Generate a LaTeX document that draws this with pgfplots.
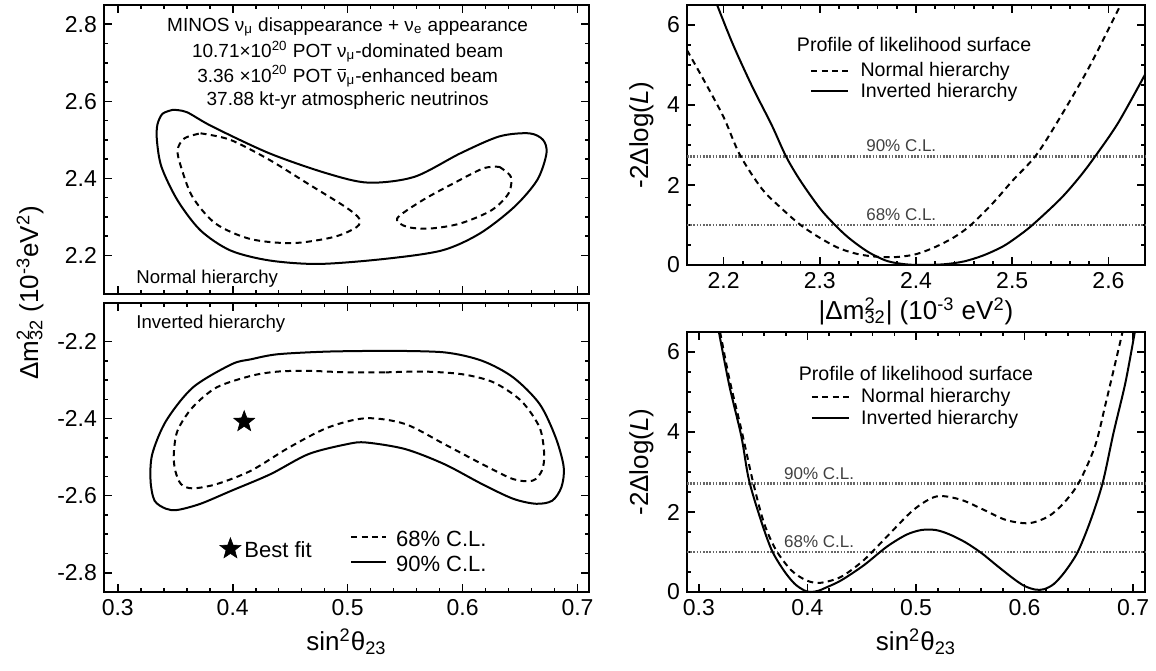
\documentclass[border=0pt]{standalone}
\usepackage{fontspec}
\setmainfont{Liberation Sans}
\usepackage{pgfplots}
\pgfplotsset{compat=1.18}
\newcommand{\fsz}[2]{\fontsize{#1}{#2}\selectfont}
\newcommand{\supsub}[2]{\rlap{\textsuperscript{#1}}\textsubscript{#2}}
\newcommand{\nubar}{\makebox[0pt][l]{\hspace{0.05em}\rule[0.62em]{0.42em}{0.06em}}ν}
\pgfdeclareplotmark{fivestar}{%
  \pgfpathmoveto{\pgfpointpolar{90}{\pgfplotmarksize}}%
  \pgfpathlineto{\pgfpointpolar{126}{0.42\pgfplotmarksize}}%
  \pgfpathlineto{\pgfpointpolar{162}{\pgfplotmarksize}}%
  \pgfpathlineto{\pgfpointpolar{198}{0.42\pgfplotmarksize}}%
  \pgfpathlineto{\pgfpointpolar{234}{\pgfplotmarksize}}%
  \pgfpathlineto{\pgfpointpolar{270}{0.42\pgfplotmarksize}}%
  \pgfpathlineto{\pgfpointpolar{306}{\pgfplotmarksize}}%
  \pgfpathlineto{\pgfpointpolar{342}{0.42\pgfplotmarksize}}%
  \pgfpathlineto{\pgfpointpolar{18}{\pgfplotmarksize}}%
  \pgfpathlineto{\pgfpointpolar{54}{0.42\pgfplotmarksize}}%
  \pgfpathclose
  \pgfusepathqfillstroke
}
\pgfplotsset{
  base/.style={
    scale only axis, anchor=south west, clip=false,
    axis line style={line width=0.9pt},
    every tick/.append style={black, line width=0.8pt},
    tickwidth=4pt, subtickwidth=2.2pt,
    tick align=inside,
    xtick pos=both, ytick pos=both,
    xticklabel pos=bottom, yticklabel pos=left,
    ticklabel style={font=\fsz{11.5}{13}},
    label style={font=\fsz{13}{15}},
    /pgf/number format/assume math mode=true,
    every axis plot/.append style={line width=1pt},
  },
  contour/.style={base, width=242.5pt, height=144.5pt,
    xmin=0.288, xmax=0.71, xtick={0.3,0.4,0.5,0.6,0.7}, minor x tick num=4,
    minor y tick num=3},
  prof/.style={base, width=229pt, height=130pt,
    ymin=0, ymax=6.5, ytick={0,2,4,6}, minor y tick num=3, minor x tick num=4,
    ylabel={-2Δlog(\textit{L})}},
  dsh/.style={black, dash pattern=on 3pt off 2.2pt},
  cl/.style={line width=1.4pt, black!60, dash pattern=on 0.8pt off 0.8pt},
}
\begin{document}
\begin{tikzpicture}
\path (0,0) rectangle (578pt,335pt);

% ---------- top left: normal hierarchy contours
\begin{axis}[contour, at={(52pt,188pt)}, ymin=2.10, ymax=2.85,
  ytick={2.2,2.4,2.6,2.8}, xticklabels={},
  yticklabel style={/pgf/number format/.cd, fixed, fixed zerofill, precision=1}]
\addplot[black, smooth] coordinates {
(0.348,2.578) (0.360,2.572) (0.382,2.535) (0.432,2.465) (0.482,2.413) (0.518,2.389)
(0.558,2.404) (0.598,2.465) (0.632,2.509) (0.658,2.517) (0.670,2.500) (0.673,2.465)
(0.665,2.396) (0.645,2.326) (0.615,2.257) (0.582,2.213) (0.532,2.191) (0.475,2.178)
(0.432,2.187) (0.398,2.213) (0.372,2.265) (0.352,2.343) (0.338,2.430) (0.334,2.500)
(0.3345,2.540) (0.339,2.568) (0.348,2.578)};
\addplot[smooth, dsh] coordinates {
(0.372,2.517) (0.398,2.500) (0.432,2.448) (0.465,2.387) (0.498,2.326) (0.510,2.296)
(0.508,2.274) (0.488,2.248) (0.452,2.232) (0.415,2.243) (0.385,2.283) (0.365,2.352)
(0.355,2.430) (0.352,2.474) (0.358,2.504) (0.372,2.517)};
\addplot[smooth, dsh] coordinates {
(0.632,2.430) (0.642,2.404) (0.640,2.361) (0.625,2.317) (0.598,2.283) (0.572,2.270)
(0.552,2.274) (0.543,2.296) (0.565,2.343) (0.592,2.387) (0.618,2.426) (0.632,2.430)};
\node[anchor=base, font=\fsz{9.5}{11}] at (axis cs:0.5,2.780) {MINOS ν\textsubscript{μ} disappearance + ν\textsubscript{e} appearance};
\node[anchor=base, font=\fsz{9.5}{11}] at (axis cs:0.5,2.713) {10.71×10\textsuperscript{20} POT ν\textsubscript{μ}-dominated beam};
\node[anchor=base, font=\fsz{9.5}{11}] at (axis cs:0.5,2.650) {3.36 ×10\textsuperscript{20} POT \nubar\textsubscript{μ}-enhanced beam};
\node[anchor=base, font=\fsz{9.5}{11}] at (axis cs:0.5,2.589) {37.88 kt-yr atmospheric neutrinos};
\node[anchor=base west, font=\fsz{9.3}{11}] at (axis cs:0.31,2.126) {Normal hierarchy};
\end{axis}

% ---------- bottom left: inverted hierarchy contours
\begin{axis}[contour, at={(52pt,39pt)}, ymin=-2.85, ymax=-2.10,
  ytick={-2.8,-2.6,-2.4,-2.2},
  yticklabel style={/pgf/number format/.cd, fixed, fixed zerofill, precision=1},
  xlabel={sin\textsuperscript{2}θ\textsubscript{23}}]
\addplot[black, smooth] coordinates {
(0.533,-2.224) (0.584,-2.228) (0.617,-2.250) (0.644,-2.293) (0.667,-2.362) (0.681,-2.449)
(0.688,-2.526) (0.686,-2.578) (0.678,-2.613) (0.664,-2.621) (0.644,-2.608) (0.617,-2.570)
(0.584,-2.518) (0.550,-2.479) (0.516,-2.462) (0.500,-2.466) (0.466,-2.492) (0.433,-2.544)
(0.399,-2.587) (0.372,-2.621) (0.352,-2.637) (0.342,-2.634) (0.332,-2.613) (0.3285,-2.561)
(0.330,-2.492) (0.342,-2.406) (0.3654,-2.319) (0.399,-2.259) (0.416,-2.246) (0.439,-2.233)
(0.483,-2.226) (0.533,-2.224)};
\addplot[smooth, dsh] coordinates {
(0.533,-2.280) (0.567,-2.278) (0.600,-2.285) (0.627,-2.306) (0.651,-2.354) (0.667,-2.423)
(0.671,-2.492) (0.669,-2.535) (0.661,-2.561) (0.644,-2.557) (0.617,-2.518) (0.584,-2.466)
(0.550,-2.414) (0.516,-2.399) (0.483,-2.423) (0.449,-2.475) (0.416,-2.535) (0.386,-2.570)
(0.365,-2.581) (0.355,-2.570) (0.350,-2.535) (0.3487,-2.492) (0.352,-2.431) (0.365,-2.371)
(0.386,-2.319) (0.416,-2.289) (0.439,-2.278) (0.466,-2.276) (0.500,-2.280) (0.533,-2.280)};
\addplot[black, only marks, mark=fivestar, mark size=5.5pt, line width=0.3pt] coordinates {(0.410,-2.408)};
\addplot[black, only marks, mark=fivestar, mark size=5.5pt, line width=0.3pt] coordinates {(0.398,-2.738)};
\node[anchor=west, font=\fsz{11}{13}] at (axis cs:0.404,-2.740) {Best fit};
\addplot[dsh] coordinates {(0.503,-2.708) (0.533,-2.708)};
\addplot[black] coordinates {(0.503,-2.773) (0.533,-2.773)};
\node[anchor=west, font=\fsz{11}{13}] at (axis cs:0.536,-2.712) {68\% C.L.};
\node[anchor=west, font=\fsz{11}{13}] at (axis cs:0.536,-2.777) {90\% C.L.};
\node[anchor=base west, font=\fsz{9.3}{11}] at (axis cs:0.31,-2.166) {Inverted hierarchy};
\end{axis}

% ---------- top right: profile in |dm2|
\begin{axis}[prof, at={(343.5pt,202.5pt)}, xmin=2.162, xmax=2.638,
  xtick={2.2,2.3,2.4,2.5,2.6},
  xlabel={|Δm\supsub{2}{32}| (10\textsuperscript{-3} eV\textsuperscript{2})},
  xlabel style={yshift=2pt}]
\addplot[cl] coordinates {(2.162,2.71) (2.638,2.71)};
\addplot[cl] coordinates {(2.162,1.0) (2.638,1.0)};
\addplot[black, smooth] coordinates {
(2.1933,6.5) (2.21,5.5) (2.23,4.45) (2.25,3.5) (2.265,2.71) (2.28,2.1) (2.30,1.42)
(2.315,1.02) (2.33,0.68) (2.35,0.33) (2.37,0.1) (2.39,0.015) (2.41,0.0) (2.43,0.02)
(2.45,0.09) (2.47,0.24) (2.49,0.46) (2.505,0.7) (2.521,1.0) (2.55,1.65) (2.57,2.2)
(2.586,2.71) (2.61,3.55) (2.638,4.76)};
\addplot[smooth, dsh] coordinates {
(2.162,5.37) (2.18,4.6) (2.20,3.7) (2.217,2.75) (2.24,1.9) (2.26,1.42) (2.28,1.0)
(2.30,0.68) (2.32,0.42) (2.34,0.27) (2.36,0.205) (2.38,0.2) (2.40,0.27) (2.42,0.45)
(2.44,0.7) (2.457,1.0) (2.48,1.55) (2.50,2.1) (2.525,2.75) (2.55,3.7) (2.58,4.95)
(2.6126,6.5)};
\node[anchor=base, font=\fsz{9.8}{11}] at (axis cs:2.398,5.33) {Profile of likelihood surface};
\addplot[dsh] coordinates {(2.291,4.85) (2.329,4.85)};
\addplot[black] coordinates {(2.291,4.36) (2.329,4.36)};
\node[anchor=base west, font=\fsz{9.8}{11}] at (axis cs:2.335,4.71) {Normal hierarchy};
\node[anchor=base west, font=\fsz{9.8}{11}] at (axis cs:2.335,4.19) {Inverted hierarchy};
\node[anchor=base west, font=\fsz{8.5}{10}, black!75] at (axis cs:2.341,2.83) {90\% C.L.};
\node[anchor=base west, font=\fsz{8.5}{10}, black!75] at (axis cs:2.341,1.12) {68\% C.L.};
\end{axis}

% ---------- bottom right: profile in sin^2 theta
\begin{axis}[prof, at={(343.5pt,39pt)}, xmin=0.289, xmax=0.711,
  xtick={0.3,0.4,0.5,0.6,0.7},
  xlabel={sin\textsuperscript{2}θ\textsubscript{23}}]
\addplot[cl] coordinates {(0.289,2.71) (0.711,2.71)};
\addplot[cl] coordinates {(0.289,1.0) (0.711,1.0)};
\addplot[black, smooth] coordinates {
(0.3184,6.5) (0.328,5.16) (0.339,3.9) (0.346,2.81) (0.357,1.8) (0.367,1.05)
(0.378,0.545) (0.388,0.21) (0.397,0.04) (0.403,0.0) (0.410,0.03) (0.417,0.11)
(0.431,0.29) (0.452,0.67) (0.473,1.13) (0.491,1.43) (0.505,1.55) (0.518,1.55)
(0.530,1.45) (0.545,1.25) (0.560,0.98) (0.575,0.65) (0.590,0.33) (0.600,0.15)
(0.610,0.06) (0.618,0.07) (0.627,0.2) (0.637,0.5) (0.649,1.0) (0.661,1.8)
(0.672,2.73) (0.682,3.98) (0.693,5.24) (0.7016,6.5)};
\addplot[smooth, dsh] coordinates {
(0.3195,6.5) (0.328,5.33) (0.339,4.07) (0.350,2.73) (0.360,1.72) (0.371,1.05)
(0.385,0.545) (0.399,0.29) (0.412,0.23) (0.431,0.38) (0.452,0.8) (0.473,1.38)
(0.498,2.06) (0.519,2.39) (0.541,2.31) (0.562,2.06) (0.583,1.8) (0.604,1.72)
(0.622,1.89) (0.636,2.22) (0.650,2.73) (0.665,3.65) (0.675,4.74) (0.686,6.0)
(0.6903,6.5)};
\node[anchor=base, font=\fsz{9.8}{11}] at (axis cs:0.5,5.285) {Profile of likelihood surface};
\addplot[dsh] coordinates {(0.404,4.87) (0.438,4.87)};
\addplot[black] coordinates {(0.404,4.36) (0.438,4.36)};
\node[anchor=base west, font=\fsz{9.8}{11}] at (axis cs:0.443,4.74) {Normal hierarchy};
\node[anchor=base west, font=\fsz{9.8}{11}] at (axis cs:0.443,4.19) {Inverted hierarchy};
\node[anchor=base west, font=\fsz{8.5}{10}, black!75] at (axis cs:0.372,2.81) {90\% C.L.};
\node[anchor=base west, font=\fsz{8.5}{10}, black!75] at (axis cs:0.372,1.107) {68\% C.L.};
\end{axis}

\node[rotate=90, font=\fsz{13}{15}] at (15pt,188.5pt) {Δm\supsub{2}{32} (10\textsuperscript{-3}eV\textsuperscript{2})};
\end{tikzpicture}
\end{document}
